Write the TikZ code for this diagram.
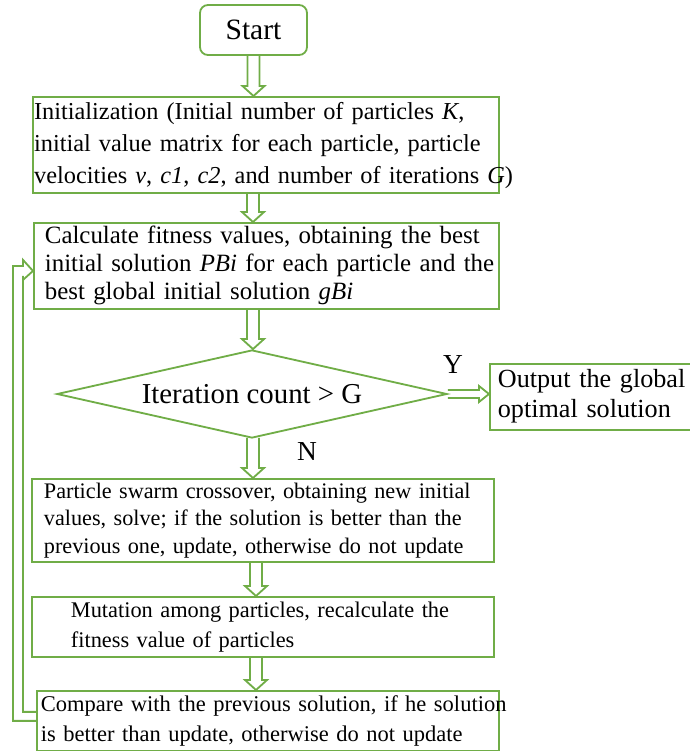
\documentclass[tikz,border=0pt]{standalone}
\usepackage{fontspec}
\setmainfont{Liberation Serif}
\usetikzlibrary{shapes.geometric, calc, positioning}
\definecolor{flowgreen}{RGB}{112,173,71}
\tikzset{
    flowline/.style={
        draw=flowgreen,
        line width=1.3pt,
        line join=miter
    },
    startbox/.style={
        rectangle,
        rounded corners=0.2cm,
        draw=flowgreen,
        line width=1.3pt,
        minimum width=2.675cm,
        minimum height=1.25cm,
        font=\fontsize{21}{24}\selectfont
    },
    procbox/.style={
        rectangle,
        draw=flowgreen,
        line width=1.3pt,
        anchor=north west,
        align=left,
        inner ysep=0pt
    },
    decision/.style={
        diamond,
        draw=flowgreen,
        line width=1.3pt,
        shape aspect=4.43,
        minimum width=9.75cm,
        minimum height=2.2cm,
        inner sep=0pt,
        font=\fontsize{20.5}{24}\selectfont
    },
    branchtext/.style={
        font=\fontsize{19.5}{22}\selectfont,
        inner sep=0pt
    }
}
% lines of a box, kept unbroken
\newcommand{\boxlines}[1]{\begin{tabular}{@{}l@{}}#1\end{tabular}}
% hollow block arrow straight down at x=#1 from node #2 to node #3
\newcommand{\hollowdown}[3]{%
  \coordinate (ha) at (#1,0 |- #2.south);
  \coordinate (hb) at (#1,0 |- #3.north);
  \draw[flowline] ($(ha)+(-6,-1)$) -- ($(hb)+(-6,-10)$) -- ($(hb)+(-11,-10)$) -- (hb)
    -- ($(hb)+(11,-10)$) -- ($(hb)+(6,-10)$) -- ($(ha)+(6,-1)$);
}

\begin{document}
\begin{tikzpicture}[x=0.025cm, y=-0.025cm]
\useasboundingbox (0,0) rectangle (690,751);

% Boxes
\node[startbox] (start) at (253.5,30) {Start};

\node[procbox, text width=11.59cm, inner xsep=0.03cm, minimum height=2.15cm,
      font=\fontsize{17.3}{22.8}\selectfont] (init) at (32,96)
  {\boxlines{Initialization (Initial number of particles \textit{K},\\
   initial value matrix for each particle, particle\\
   velocities \textit{v}, \textit{c1}, \textit{c2}, and number of iterations \textit{G})}};

\node[procbox, text width=11.075cm, inner xsep=0.275cm, minimum height=2.15cm,
      font=\fontsize{17.7}{19.9}\selectfont] (fitness) at (33,222)
  {\boxlines{Calculate fitness values, obtaining the best\\
   initial solution \textit{PBi} for each particle and the\\
   best global initial solution \textit{gBi}}};

\node[decision] (iter) at (252,394) {Iteration count > G};

\node[procbox, text width=4.875cm, inner xsep=0.2cm, minimum height=1.65cm,
      font=\fontsize{18.6}{21.3}\selectfont] (output) at (489,363)
  {\boxlines{Output the global\\ optimal solution}};

\node[procbox, text width=10.95cm, inner xsep=0.3cm, minimum height=1.975cm,
      font=\fontsize{15.8}{19.6}\selectfont] (cross) at (31,478)
  {\boxlines{Particle swarm crossover, obtaining new initial\\
   values, solve; if the solution is better than the\\
   previous one, update, otherwise do not update}};

\node[procbox, text width=9.6cm, inner xsep=0.975cm, minimum height=1.425cm,
      font=\fontsize{15.9}{21.3}\selectfont] (mutate) at (31,596)
  {\boxlines{Mutation among particles, recalculate the\\
   fitness value of particles}};

\node[procbox, text width=11.35cm, inner xsep=0.1cm, minimum height=1.45cm,
      font=\fontsize{16}{21.3}\selectfont] (compare) at (36,690)
  {\boxlines{Compare with the previous solution, if he solution\\
   is better than update, otherwise do not update}};

% Branch labels
\node[branchtext] (yes) at (453,365) {Y};
\node[branchtext] (no) at (307,452) {N};

% Block arrows
\hollowdown{253.5}{start}{init}
\hollowdown{253}{init}{fitness}
\hollowdown{253}{fitness}{iter}
\hollowdown{253}{iter}{cross}
\hollowdown{256}{cross}{mutate}
\hollowdown{256}{mutate}{compare}

\coordinate (ytip) at (output.west |- iter.east);
\draw[flowline] ($(iter.east)+(0,-4)$) -- ($(ytip)+(-10,-4)$) -- ($(ytip)+(-10,-8)$) -- (ytip)
  -- ($(ytip)+(-10,8)$) -- ($(ytip)+(-10,4)$) -- ($(iter.east)+(0,4)$);

% Loop back
\coordinate (ltip) at ($(fitness.west)+(0,5)$);
\draw[flowline] (compare.west) -| ($(ltip)+(-20,-5)$) -- ($(ltip)+(-10,-5)$) -- ($(ltip)+(-10,-11)$)
  -- (ltip) -- ($(ltip)+(-10,9)$) -- ($(ltip)+(-10,5)$) -- ($(compare.west)+(-13,-9)$)
  -- ($(compare.west)+(0,-9)$);

\end{tikzpicture}
\end{document}
